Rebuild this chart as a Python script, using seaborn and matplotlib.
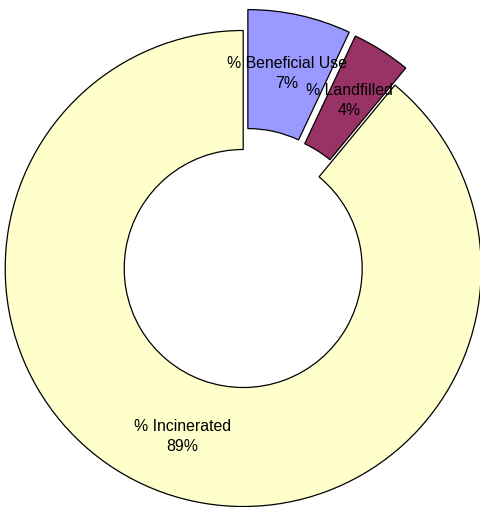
import matplotlib
matplotlib.use('Agg')
import matplotlib.pyplot as plt
import seaborn as sns

categories = ['% Beneficial Use', '% Landfilled', '% Incinerated']
values = [7, 4, 89]
colors = ['#9999FF', '#993366', '#FFFFCC']
explode = [0.09, 0.085, 0.0]

sns.set_theme(style='white')
plt.rcParams['font.family'] = ['Liberation Sans', 'DejaVu Sans']

fig = plt.figure(figsize=(4.8, 5.07), dpi=100)
ax = fig.add_axes([0, 0, 1, 1])

labels = [f'{c}\n{v}%' for c, v in zip(categories, values)]
ax.pie(values, labels=labels, colors=colors, explode=explode,
       startangle=90, counterclock=False, labeldistance=0.75,
       wedgeprops=dict(width=0.5, edgecolor='black', linewidth=0.9),
       textprops=dict(ha='center', va='center', fontsize=11.4,
                      color='black', linespacing=1.45))

# center ~ (243, 268) px, radius ~238 px
ax.set_xlim(-243.2 / 238, (480 - 243.2) / 238)
ax.set_ylim(-(507 - 268.5) / 238, 268.5 / 238)
ax.set_aspect('auto')
ax.axis('off')

fig.savefig('out.png', dpi=100, facecolor='white')
